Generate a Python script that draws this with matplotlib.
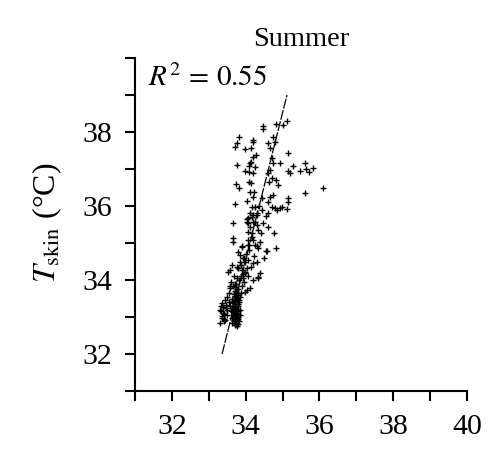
import numpy as np
import matplotlib
matplotlib.use("Agg")
import matplotlib.pyplot as plt
from matplotlib.ticker import MultipleLocator

plt.rcParams['font.family'] = ['Liberation Serif', 'DejaVu Serif']
plt.rcParams['mathtext.fontset'] = 'stix'

# scatter points
x_upper = [34.47, 34.47, 34.82, 35.01, 35.12, 33.82, 33.71, 33.76, 33.98, 34.14,
           34.20, 34.20, 34.60, 34.74, 34.66, 34.79, 35.15, 34.28, 34.20, 34.14,
           34.12, 34.25, 34.09, 33.76, 33.98, 34.09, 34.20, 34.71, 34.74, 34.93,
           34.66, 34.60, 35.15, 35.20, 35.28, 35.47, 35.61, 35.63, 35.72, 35.82,
           33.74, 33.82, 34.09, 34.14, 34.12, 34.22, 34.63, 34.71, 34.82, 34.88,
           35.61, 36.09, 33.71, 34.04, 34.17, 34.25, 34.20, 34.44, 34.36, 34.44,
           34.66, 34.74, 34.60, 34.71, 34.79, 34.85, 34.93, 34.98, 35.12, 35.15,
           35.15, 34.12, 34.17, 34.04, 34.06, 34.20, 34.31, 34.47, 34.55, 34.60,
           33.66, 33.66, 33.90, 34.06, 34.09, 34.31, 34.17, 34.41, 34.60, 34.77,
           34.82]
y_upper = [38.16, 38.08, 38.22, 38.19, 38.30, 37.86, 37.59, 37.70, 37.54, 37.57,
           37.78, 37.73, 37.70, 37.86, 37.57, 37.73, 37.43, 37.38, 37.32, 37.19,
           37.16, 37.05, 37.08, 37.11, 36.95, 36.92, 36.89, 37.30, 37.16, 37.16,
           36.97, 36.89, 36.95, 36.89, 37.08, 36.95, 37.16, 37.00, 36.92, 37.03,
           36.59, 36.49, 36.65, 36.62, 36.38, 36.38, 36.65, 36.76, 36.70, 36.57,
           36.35, 36.49, 36.05, 36.14, 35.97, 35.97, 36.24, 36.22, 36.00, 35.89,
           36.24, 36.30, 36.11, 35.97, 35.95, 35.89, 35.95, 35.97, 35.92, 36.22,
           36.11, 35.81, 35.70, 35.65, 35.54, 35.57, 35.76, 35.54, 35.73, 35.81,
           35.54, 35.14, 34.92, 35.08, 34.95, 34.92, 35.27, 35.27, 35.43, 35.27,
           34.86]

x_mid = [34.06, 34.04, 34.20, 34.31, 34.25, 34.31, 34.33, 34.06, 34.12, 34.17,
         34.20, 34.25, 34.33, 34.06, 33.90, 33.79, 33.85, 33.93, 33.98, 34.06,
         34.20, 34.31, 34.04, 33.98, 33.90, 33.79, 33.66, 34.55, 34.39, 33.57,
         33.63, 33.76, 34.33, 34.58, 34.33, 34.12, 34.04, 33.98, 33.52, 33.57,
         33.95, 34.02, 34.10, 33.88, 33.84, 34.15, 34.22, 33.92, 33.98, 34.05,
         34.20, 34.40, 34.50]
y_mid = [35.68, 35.57, 35.76, 35.81, 35.57, 35.49, 35.35, 35.30, 35.43, 35.16,
         35.08, 34.95, 34.86, 34.95, 34.89, 34.76, 34.68, 34.59, 34.49, 34.54,
         34.46, 34.49, 34.32, 34.22, 34.27, 34.32, 35.03, 34.78, 35.03, 34.27,
         34.41, 34.35, 34.05, 34.78, 34.08, 33.78, 33.73, 33.68, 34.22, 33.78,
         34.60, 34.70, 34.80, 34.40, 34.50, 34.35, 34.65, 34.05, 34.20, 34.10,
         34.00, 34.20, 34.60]

x_low = [33.36, 33.39, 33.30, 33.39, 33.36, 33.30, 33.44, 33.49, 33.49,
         33.60, 33.65, 33.70, 33.75, 33.80, 33.72, 33.68, 33.78, 33.85, 33.62,
         33.70, 33.76, 33.82, 33.66, 33.72, 33.80, 33.58, 33.64, 33.70, 33.78,
         33.84, 33.60, 33.68, 33.74, 33.80, 33.66, 33.72, 33.78, 33.62, 33.70,
         33.76, 33.68, 33.74, 33.80, 33.70, 33.76, 33.73, 33.67, 33.74, 33.88,
         33.90, 33.95, 33.55, 33.58, 33.82, 33.86, 33.92, 33.76, 33.69, 33.80,
         33.85, 33.62, 33.55, 33.50, 33.45,
         33.71, 33.75, 33.79, 33.67, 33.73, 33.77, 33.81, 33.69, 33.74, 33.78,
         33.72, 33.76, 33.70, 33.80, 33.66, 33.74, 33.77, 33.71, 33.83, 33.68,
         33.33, 33.41, 33.37, 33.46, 33.42, 33.34, 33.47, 33.40]
y_low = [33.38, 33.27, 33.19, 33.11, 32.97, 32.84, 32.92, 33.05, 33.19,
         33.95, 33.85, 33.80, 33.90, 33.75, 33.70, 33.62, 33.60, 33.55, 33.50,
         33.48, 33.45, 33.40, 33.38, 33.35, 33.30, 33.30, 33.25, 33.22, 33.20,
         33.18, 33.15, 33.12, 33.10, 33.08, 33.05, 33.02, 33.00, 32.98, 32.95,
         32.92, 32.88, 32.85, 32.82, 32.78, 32.75, 32.80, 33.30, 33.55, 33.65,
         33.85, 33.95, 33.65, 33.85, 34.00, 34.10, 34.15, 34.05, 34.10, 32.95,
         33.05, 32.85, 33.40, 33.55, 33.45,
         33.28, 33.24, 33.16, 33.14, 33.06, 32.97, 32.90, 32.93, 32.98, 33.35,
         33.42, 33.52, 33.58, 33.66, 33.44, 33.68, 33.76, 33.88, 33.47, 33.20,
         33.30, 33.08, 33.02, 33.24, 32.90, 33.15, 33.32, 32.95]

x_pts = x_upper + x_mid + x_low
y_pts = y_upper + y_mid + y_low

# regression line end points
fit_x = [33.36, 35.12]
fit_y = [32.0, 39.0]
r2 = 0.55

fig = plt.figure(figsize=(5, 4.68), dpi=100)
ax = fig.add_axes([0.27, 0.1645, 0.664, 0.7115])

ax.scatter(x_pts, y_pts, marker='+', s=18, c='black', linewidths=1.0)
ax.plot(fit_x, fit_y, color='black', lw=0.9, ls=(0, (8, 1.2)))

ax.set_xlim(31, 40)
ax.set_ylim(31, 40)
ax.xaxis.set_major_locator(MultipleLocator(1))
ax.yaxis.set_major_locator(MultipleLocator(1))
ax.set_xticklabels(['' if t % 2 else str(int(t)) for t in ax.get_xticks()])
ax.set_yticklabels([str(int(t)) if (t % 2 == 0 and t < 40) else '' for t in ax.get_yticks()])

for s in ['top', 'right']:
    ax.spines[s].set_visible(False)
for s in ['left', 'bottom']:
    ax.spines[s].set_linewidth(1.5)
ax.tick_params(direction='out', length=7.5, width=1.5, labelsize=21.5, pad=9)

ax.set_ylabel(r'$T_{\mathrm{skin}}$ (°C)', fontsize=23)
ax.yaxis.set_label_coords(-0.215, 0.505)
ax.set_title('Summer', fontsize=20.5, pad=9)
ax.text(31.35, 39.45, r'$R^2\,=\,0.55$', fontsize=21, va='center', ha='left')

fig.savefig('out.png', dpi=100)
